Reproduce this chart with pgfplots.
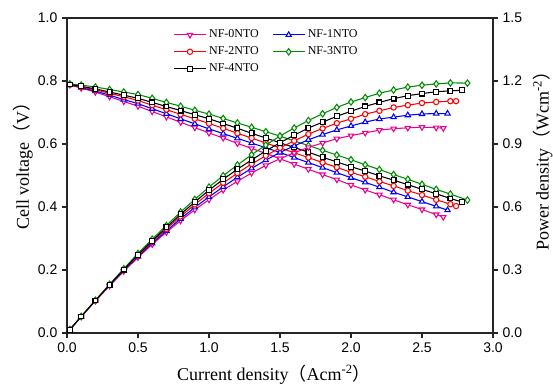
\documentclass[border=0pt]{standalone}
\usepackage{pgfplots}
\usepackage{pgfplotstable}
\pgfplotsset{compat=1.18}
\usepackage{fontspec}
\setmainfont{Liberation Serif}
\newfontfamily\tickfont{Liberation Sans}
\newfontfamily\cjk{Noto Sans CJK SC}
\definecolor{mygreen}{RGB}{0,140,0}

\pgfplotstableread{
x v p
0.02 0.7875 0.0158
0.1 0.7775 0.0778
0.2 0.765 0.153
0.3 0.750 0.225
0.4 0.735 0.294
0.5 0.720 0.360
0.6 0.703 0.422
0.7 0.686 0.480
0.8 0.669 0.535
0.9 0.652 0.587
1.0 0.635 0.635
1.1 0.619 0.681
1.2 0.602 0.722
1.3 0.586 0.762
1.4 0.570 0.798
1.5 0.553 0.830
1.6 0.536 0.858
1.7 0.520 0.884
1.8 0.503 0.905
1.9 0.487 0.925
2.0 0.470 0.940
2.1 0.454 0.953
2.2 0.439 0.966
2.3 0.423 0.973
2.4 0.407 0.977
2.5 0.392 0.980
2.6 0.376 0.978
2.65 0.368 0.975
}\tA

\pgfplotstableread{
x v p
0.02 0.788 0.0158
0.1 0.779 0.0779
0.2 0.768 0.154
0.3 0.755 0.226
0.4 0.741 0.297
0.5 0.728 0.364
0.6 0.712 0.427
0.7 0.696 0.487
0.8 0.680 0.544
0.9 0.664 0.598
1.0 0.648 0.648
1.1 0.633 0.696
1.2 0.618 0.742
1.3 0.603 0.784
1.4 0.588 0.823
1.5 0.573 0.860
1.6 0.557 0.891
1.7 0.541 0.920
1.8 0.525 0.945
1.9 0.509 0.967
2.0 0.493 0.986
2.1 0.478 1.004
2.2 0.463 1.019
2.3 0.447 1.028
2.4 0.432 1.037
2.5 0.417 1.043
2.6 0.402 1.045
2.68 0.390 1.045
}\tB

\pgfplotstableread{
x v p
0.02 0.788 0.0158
0.1 0.781 0.0781
0.2 0.772 0.154
0.3 0.761 0.228
0.4 0.750 0.300
0.5 0.738 0.369
0.6 0.723 0.434
0.7 0.709 0.496
0.8 0.694 0.555
0.9 0.680 0.612
1.0 0.665 0.665
1.1 0.650 0.715
1.2 0.634 0.761
1.3 0.619 0.805
1.4 0.603 0.844
1.5 0.588 0.882
1.6 0.572 0.915
1.7 0.557 0.947
1.8 0.541 0.974
1.9 0.526 0.999
2.0 0.510 1.020
2.1 0.496 1.042
2.2 0.481 1.058
2.3 0.467 1.074
2.4 0.452 1.085
2.5 0.438 1.095
2.6 0.423 1.100
2.7 0.409 1.104
2.74 0.403 1.104
}\tC

\pgfplotstableread{
x v p
0.02 0.791 0.0158
0.1 0.787 0.0787
0.2 0.781 0.156
0.3 0.773 0.232
0.4 0.765 0.306
0.5 0.757 0.379
0.6 0.745 0.447
0.7 0.732 0.512
0.8 0.720 0.576
0.9 0.707 0.636
1.0 0.695 0.695
1.1 0.681 0.749
1.2 0.667 0.800
1.3 0.653 0.849
1.4 0.639 0.895
1.5 0.625 0.938
1.6 0.610 0.976
1.7 0.595 1.012
1.8 0.580 1.044
1.9 0.565 1.074
2.0 0.550 1.100
2.1 0.534 1.121
2.2 0.519 1.142
2.3 0.503 1.157
2.4 0.488 1.171
2.5 0.472 1.180
2.6 0.456 1.186
2.7 0.441 1.191
2.82 0.422 1.190
}\tD

\pgfplotstableread{
x v p
0.02 0.789 0.0158
0.1 0.783 0.0783
0.2 0.775 0.155
0.3 0.765 0.230
0.4 0.755 0.302
0.5 0.745 0.373
0.6 0.732 0.439
0.7 0.719 0.503
0.8 0.706 0.565
0.9 0.693 0.624
1.0 0.680 0.680
1.1 0.665 0.732
1.2 0.650 0.780
1.3 0.634 0.824
1.4 0.619 0.867
1.5 0.604 0.906
1.6 0.589 0.942
1.7 0.574 0.976
1.8 0.558 1.004
1.9 0.543 1.032
2.0 0.528 1.056
2.1 0.514 1.079
2.2 0.499 1.098
2.3 0.485 1.116
2.4 0.471 1.130
2.5 0.456 1.140
2.6 0.442 1.149
2.7 0.427 1.153
2.78 0.416 1.156
}\tE

\pgfplotsset{
  myaxis/.style={
    scale only axis, width=319.5pt, height=236.25pt,
    xmin=0, xmax=3,
    tick align=outside, major tick length=3.75pt,
    axis line style={line width=0.9pt, black!85},
    tick style={line width=0.8pt, black!85},
    ticklabel style={font=\tickfont\fontsize{10.5}{12}\selectfont},
    label style={font=\fontsize{13.5}{15}\selectfont},
    xticklabel style={/pgf/number format/fixed,/pgf/number format/fixed zerofill,/pgf/number format/precision=1,/pgf/number format/assume math mode=true},
    yticklabel style={/pgf/number format/fixed,/pgf/number format/fixed zerofill,/pgf/number format/precision=1,/pgf/number format/assume math mode=true},
  },
  mA/.style={magenta, line width=0.8pt, mark=triangle*, mark size=2.3pt, mark options={solid, fill=white, draw=magenta, rotate=180}},
  mB/.style={blue, line width=0.8pt, mark=triangle*, mark size=2.3pt, mark options={solid, fill=white, draw=blue}},
  mC/.style={red, line width=0.8pt, mark=*, mark size=2pt, mark options={solid, fill=white, draw=red}},
  mD/.style={mygreen, line width=0.8pt, mark=diamond*, mark size=2.4pt, mark options={solid, fill=white, draw=mygreen}},
  mE/.style={black, line width=0.8pt, mark=square*, mark size=1.8pt, mark options={solid, fill=white, draw=black}},
  legend image code/.code={\draw[mark repeat=2,mark phase=2,#1] plot coordinates {(0cm,0cm) (0.42cm,0cm) (0.84cm,0cm)};},
}

\begin{document}
\begin{tikzpicture}
\begin{axis}[myaxis,
  ymin=0, ymax=1,
  xtick={0,0.5,1.0,1.5,2.0,2.5,3.0},
  ytick={0,0.2,0.4,0.6,0.8,1.0},
  xtick pos=bottom, ytick pos=left,
  xlabel={Current density{\cjk（}Acm\textsuperscript{-2}{\cjk）}},
  ylabel={Cell voltage{\cjk（}V{\cjk）}},
  xlabel style={at={(axis description cs:0.486,-0.133)}, anchor=center},
  ylabel style={at={(axis description cs:-0.103,0.545)}, anchor=center},
  legend columns=2,
  legend style={at={(0.24,0.98)}, anchor=north west, draw=none, fill=none,
    font=\fontsize{9}{10.5}\selectfont, row sep=1.2pt,
    /tikz/every even column/.append style={column sep=8pt}},
]
\addplot[mA] table[x=x,y=v]{\tA};
\addlegendentry{NF-0NTO}
\addplot[mB] table[x=x,y=v]{\tB};
\addlegendentry{NF-1NTO}
\addplot[mC] table[x=x,y=v]{\tC};
\addlegendentry{NF-2NTO}
\addplot[mD] table[x=x,y=v]{\tD};
\addlegendentry{NF-3NTO}
\addplot[mE] table[x=x,y=v]{\tE};
\addlegendentry{NF-4NTO}
\end{axis}
\begin{axis}[myaxis,
  ymin=0, ymax=1.5,
  ytick={0,0.3,0.6,0.9,1.2,1.5},
  axis x line=none, axis y line*=right,
  ylabel={Power density{\cjk（}Wcm\textsuperscript{-2}{\cjk）}},
  ylabel style={at={(axis description cs:1.117,0.56)}, anchor=center},
]
\addplot[mA] table[x=x,y=p]{\tA};
\addplot[mB] table[x=x,y=p]{\tB};
\addplot[mC] table[x=x,y=p]{\tC};
\addplot[mD] table[x=x,y=p]{\tD};
\addplot[mE] table[x=x,y=p]{\tE};
\end{axis}
\pgfresetboundingbox
\path (-50.25pt,-43.5pt) rectangle (364.5pt,249.75pt);
\end{tikzpicture}
\end{document}
